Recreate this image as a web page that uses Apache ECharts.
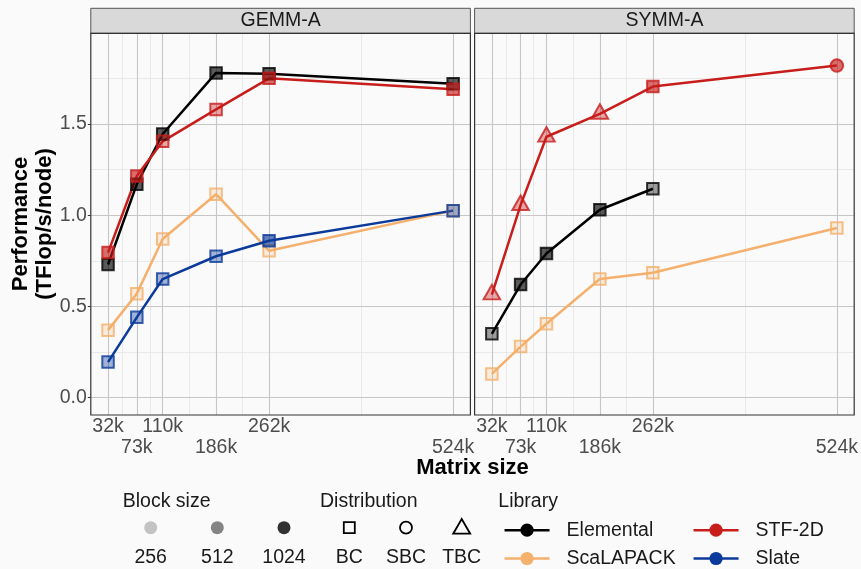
<!DOCTYPE html>
<html><head><meta charset="utf-8">
<script src="https://cdn.jsdelivr.net/npm/echarts@6/dist/echarts.min.js"></script>
<style>html,body{margin:0;padding:0;background:#fafafa}#c{width:861px;height:569px}</style>
</head><body><div id="c"></div>
<script>
// ---------- data ----------
const panels = ['GEMM-A', 'SYMM-A'];
const xTickValues = [32.768, 73.728, 110.592, 186.624, 262.144, 524.288];
const xTickLabels = ['32k', '73k', '110k', '186k', '262k', '524k'];
const xTickRow = [1, 2, 1, 2, 1, 2];
const yTickValues = [0, 0.5, 1.0, 1.5];
const yMinorValues = [0.25, 0.75, 1.25, 1.75];
const libraries = ['Elemental', 'ScaLAPACK', 'STF-2D', 'Slate'];
const libraryColors = ['#000000', '#f4b06c', '#c71d1b', '#0b3a9a'];
const blockSizes = ['256', '512', '1024'];
const distributions = ['BC', 'SBC', 'TBC'];

// GEMM-A
const gemmElementalX = [32.768, 73.728, 110.592, 186.624, 262.144, 524.288];
const gemmElementalY = [0.73, 1.17, 1.445, 1.78, 1.775, 1.72];
const gemmElementalBlock = [1024, 1024, 1024, 1024, 1024, 1024];
const gemmElementalDist = ['BC', 'BC', 'BC', 'BC', 'BC', 'BC'];

const gemmScalapackX = [32.768, 73.728, 110.592, 186.624, 262.144, 524.288];
const gemmScalapackY = [0.37, 0.57, 0.87, 1.115, 0.805, 1.025];
const gemmScalapackBlock = [256, 256, 256, 256, 256, 256];
const gemmScalapackDist = ['BC', 'BC', 'BC', 'BC', 'BC', 'BC'];

const gemmStfX = [32.768, 73.728, 110.592, 186.624, 262.144, 524.288];
const gemmStfY = [0.795, 1.215, 1.405, 1.58, 1.75, 1.69];
const gemmStfBlock = [1024, 1024, 512, 512, 1024, 1024];
const gemmStfDist = ['BC', 'BC', 'BC', 'BC', 'BC', 'BC'];

const gemmSlateX = [32.768, 73.728, 110.592, 186.624, 262.144, 524.288];
const gemmSlateY = [0.195, 0.44, 0.65, 0.775, 0.86, 1.025];
const gemmSlateBlock = [512, 512, 512, 512, 1024, 512];
const gemmSlateDist = ['BC', 'BC', 'BC', 'BC', 'BC', 'BC'];

// SYMM-A
const symmElementalX = [32.768, 73.728, 110.592, 186.624, 262.144];
const symmElementalY = [0.35, 0.62, 0.79, 1.03, 1.145];
const symmElementalBlock = [512, 1024, 1024, 1024, 512];
const symmElementalDist = ['BC', 'BC', 'BC', 'BC', 'BC'];

const symmScalapackX = [32.768, 73.728, 110.592, 186.624, 262.144, 524.288];
const symmScalapackY = [0.13, 0.28, 0.405, 0.65, 0.685, 0.93];
const symmScalapackBlock = [256, 256, 256, 256, 256, 256];
const symmScalapackDist = ['BC', 'BC', 'BC', 'BC', 'BC', 'BC'];

const symmStfX = [32.768, 73.728, 110.592, 186.624, 262.144, 524.288];
const symmStfY = [0.565, 1.055, 1.43, 1.555, 1.705, 1.82];
const symmStfBlock = [512, 512, 512, 512, 1024, 1024];
const symmStfDist = ['TBC', 'TBC', 'TBC', 'TBC', 'BC', 'SBC'];

// ---------- styling ----------
const FONT = 'Liberation Sans, Arial, sans-serif';
const alphaByBlock = { 256: 0.26, 512: 0.47, 1024: 0.8 };
const X_MIN = 8.192, X_MAX = 548.864, Y_MIN = -0.0951, Y_MAX = 1.997;

function rgba(hex, a) {
  const n = parseInt(hex.slice(1), 16);
  return 'rgba(' + ((n >> 16) & 255) + ',' + ((n >> 8) & 255) + ',' + (n & 255) + ',' + a + ')';
}
function symbolFor(d) {
  if (d === 'BC') return { symbol: 'rect', symbolSize: 11.5, symbolOffset: [0, 0] };
  if (d === 'SBC') return { symbol: 'circle', symbolSize: 12.5, symbolOffset: [0, 0] };
  return { symbol: 'triangle', symbolSize: [16.5, 14.5], symbolOffset: [0, -2.4] };
}

const panelSeries = [
  [
    { lib: 0, x: gemmElementalX, y: gemmElementalY, b: gemmElementalBlock, d: gemmElementalDist },
    { lib: 1, x: gemmScalapackX, y: gemmScalapackY, b: gemmScalapackBlock, d: gemmScalapackDist },
    { lib: 2, x: gemmStfX, y: gemmStfY, b: gemmStfBlock, d: gemmStfDist },
    { lib: 3, x: gemmSlateX, y: gemmSlateY, b: gemmSlateBlock, d: gemmSlateDist }
  ],
  [
    { lib: 0, x: symmElementalX, y: symmElementalY, b: symmElementalBlock, d: symmElementalDist },
    { lib: 1, x: symmScalapackX, y: symmScalapackY, b: symmScalapackBlock, d: symmScalapackDist },
    { lib: 2, x: symmStfX, y: symmStfY, b: symmStfBlock, d: symmStfDist }
  ]
];

const gridLeft = [90.8, 474.6];
const gridW = 379.6, gridTop = 33.3, gridH = 381.7;

const xMinor = [];
for (let i = 0; i < xTickValues.length - 1; i++) xMinor.push((xTickValues[i] + xTickValues[i + 1]) / 2);
const row1Values = xTickValues.filter((v, i) => xTickRow[i] === 1);
const row2Values = xTickValues.filter((v, i) => xTickRow[i] === 2);
function tickLabel(v) {
  let k = 0, best = 1e9;
  xTickValues.forEach((t, i) => { if (Math.abs(t - v) < best) { best = Math.abs(t - v); k = i; } });
  return xTickLabels[k];
}

const series = [];
panels.forEach((p, gi) => {
  const ml = [];
  xMinor.forEach(v => ml.push({ xAxis: v, lineStyle: { color: '#e6e6e6', width: 0.9, type: 'solid' } }));
  yMinorValues.forEach(v => ml.push({ yAxis: v, lineStyle: { color: '#e6e6e6', width: 0.9, type: 'solid' } }));
  xTickValues.forEach(v => ml.push({ xAxis: v, lineStyle: { color: '#c6c6c6', width: 1.1, type: 'solid' } }));
  yTickValues.forEach(v => ml.push({ yAxis: v, lineStyle: { color: '#c6c6c6', width: 1.1, type: 'solid' } }));
  series.push({
    type: 'line', name: 'grid' + gi, xAxisIndex: gi, yAxisIndex: gi,
    data: [[X_MIN, Y_MIN]], symbol: 'none', lineStyle: { opacity: 0 }, silent: true, z: 1,
    markLine: { silent: true, symbol: ['none', 'none'], label: { show: false }, z: 1, animation: false, data: ml }
  });
});
panels.forEach((p, gi) => {
  panelSeries[gi].forEach(s => {
    const c = libraryColors[s.lib];
    series.push({
      type: 'line', name: libraries[s.lib], xAxisIndex: gi, yAxisIndex: gi,
      data: s.x.map((x, i) => [x, s.y[i]]),
      showSymbol: false, symbol: 'circle', symbolSize: 13,
      lineStyle: { width: 2.5, color: c }, itemStyle: { color: c }, z: 3, silent: true
    });
  });
});
panels.forEach((p, gi) => {
  panelSeries[gi].forEach(s => {
    const c = libraryColors[s.lib];
    series.push({
      type: 'scatter', name: libraries[s.lib] + ' points', xAxisIndex: gi, yAxisIndex: gi, z: 4, silent: true,
      data: s.x.map((x, i) => Object.assign({
        value: [x, s.y[i]],
        itemStyle: { color: rgba(c, alphaByBlock[s.b[i]]), borderColor: c, borderWidth: 2 }
      }, symbolFor(s.d[i])))
    });
  });
});

const labelStyle = { fontSize: 19.5, color: '#4d4d4d', fontFamily: FONT, showMinLabel: true, showMaxLabel: true, hideOverlap: false };
const xAxes = [];
// row-1 label axes (also carry ticks)
panels.forEach((p, gi) => xAxes.push({
  type: 'value', gridIndex: gi, min: X_MIN, max: X_MAX, position: 'bottom', offset: 0,
  axisLine: { show: false }, splitLine: { show: false },
  axisTick: { show: true, customValues: xTickValues, length: 3, lineStyle: { color: '#333', width: 1 } },
  axisLabel: Object.assign({ customValues: row1Values, margin: 1, lineHeight: 21, formatter: tickLabel }, labelStyle)
}));
// row-2 label axes (dodged)
panels.forEach((p, gi) => xAxes.push({
  type: 'value', gridIndex: gi, min: X_MIN, max: X_MAX, position: 'bottom', offset: 0,
  axisLine: { show: false }, splitLine: { show: false }, axisTick: { show: false },
  axisLabel: Object.assign({ customValues: row2Values, margin: 22, lineHeight: 21, formatter: tickLabel }, labelStyle)
}));
const yAxes = panels.map((p, gi) => ({
  type: 'value', gridIndex: gi, min: Y_MIN, max: Y_MAX,
  axisLine: { show: false }, splitLine: { show: false },
  axisTick: { show: gi === 0, customValues: yTickValues, length: 3, lineStyle: { color: '#333', width: 1 } },
  axisLabel: Object.assign({ show: gi === 0, customValues: yTickValues, margin: 4, formatter: v => v.toFixed(1) }, labelStyle)
}));

const graphic = [];
panels.forEach((p, gi) => {
  graphic.push({ type: 'rect', shape: { x: gridLeft[gi], y: 8.3, width: gridW, height: 25 },
    style: { fill: '#d9d9d9', stroke: '#555', lineWidth: 1 }, z: 10 });
  graphic.push({ type: 'text', x: gridLeft[gi] + gridW / 2, y: 21,
    style: { text: p, font: '19.5px ' + FONT, fill: '#1a1a1a', textAlign: 'center', textVerticalAlign: 'middle' }, z: 11 });
  graphic.push({ type: 'rect', shape: { x: gridLeft[gi], y: gridTop, width: gridW, height: gridH },
    style: { fill: 'none', stroke: '#333', lineWidth: 1.2 }, z: 10, silent: true });
});
// axis titles
graphic.push({ type: 'text', x: 472.5, y: 468,
  style: { text: 'Matrix size', font: 'bold 22px ' + FONT, fill: '#000', textAlign: 'center', textVerticalAlign: 'middle' } });
graphic.push({ type: 'text', x: 33, y: 224, rotation: Math.PI / 2,
  style: { text: 'Performance\n(TFlop/s/node)', font: 'bold 22px ' + FONT, lineHeight: 23.5, fill: '#000', textAlign: 'center', textVerticalAlign: 'middle' } });
// legend titles
[['Block size', 122.7], ['Distribution', 320], ['Library', 498.3]].forEach(t => {
  graphic.push({ type: 'text', x: t[1], y: 501.5,
    style: { text: t[0], font: '19.5px ' + FONT, fill: '#1a1a1a', textAlign: 'left', textVerticalAlign: 'middle' } });
});
// block size legend
const blockX = [150.7, 217.3, 284];
blockSizes.forEach((b, i) => {
  graphic.push({ type: 'circle', shape: { cx: blockX[i], cy: 527.7, r: 6.5 }, style: { fill: rgba('#000000', [0.22, 0.47, 0.8][i]) } });
  graphic.push({ type: 'text', x: blockX[i], y: 558,
    style: { text: b, font: '19.5px ' + FONT, fill: '#1a1a1a', textAlign: 'center', textVerticalAlign: 'middle' } });
});
// distribution legend
const distX = [349.3, 406, 461.7];
graphic.push({ type: 'rect', shape: { x: distX[0] - 5.5, y: 527.7 - 5.5, width: 11, height: 11 }, style: { fill: 'none', stroke: '#000', lineWidth: 1.8 } });
graphic.push({ type: 'circle', shape: { cx: distX[1], cy: 527.7, r: 6 }, style: { fill: 'none', stroke: '#000', lineWidth: 1.8 } });
graphic.push({ type: 'polygon', shape: { points: [[distX[2], 519], [distX[2] + 8.5, 533.7], [distX[2] - 8.5, 533.7]] }, style: { fill: 'none', stroke: '#000', lineWidth: 1.8 } });
distributions.forEach((d, i) => {
  graphic.push({ type: 'text', x: distX[i], y: 558,
    style: { text: d, font: '19.5px ' + FONT, fill: '#1a1a1a', textAlign: 'center', textVerticalAlign: 'middle' } });
});

const legendCommon = {
  orient: 'vertical', top: 520.2, height: 60, padding: 0, itemGap: 8.3, itemWidth: 45, itemHeight: 16.5,
  selectedMode: false, lineStyle: { width: 2.5 },
  textStyle: { fontSize: 19.5, color: '#1a1a1a', fontFamily: FONT, lineHeight: 20, padding: [0, 0, 0, 12] }
};

const chart = echarts.init(document.getElementById('c'), null, { renderer: 'canvas' });
chart.setOption({
  backgroundColor: '#fafafa',
  animation: false,
  textStyle: { fontFamily: FONT },
  grid: panels.map((p, gi) => ({ left: gridLeft[gi], top: gridTop, width: gridW, height: gridH,
    show: true, backgroundColor: '#fafafa', borderColor: '#333', borderWidth: 0 })),
  xAxis: xAxes,
  yAxis: yAxes,
  legend: [
    Object.assign({}, legendCommon, { left: 503.3, data: ['Elemental', 'ScaLAPACK'] }),
    Object.assign({}, legendCommon, { left: 692.3, data: ['STF-2D', 'Slate'] })
  ],
  graphic: graphic,
  series: series
});
</script></body></html>
